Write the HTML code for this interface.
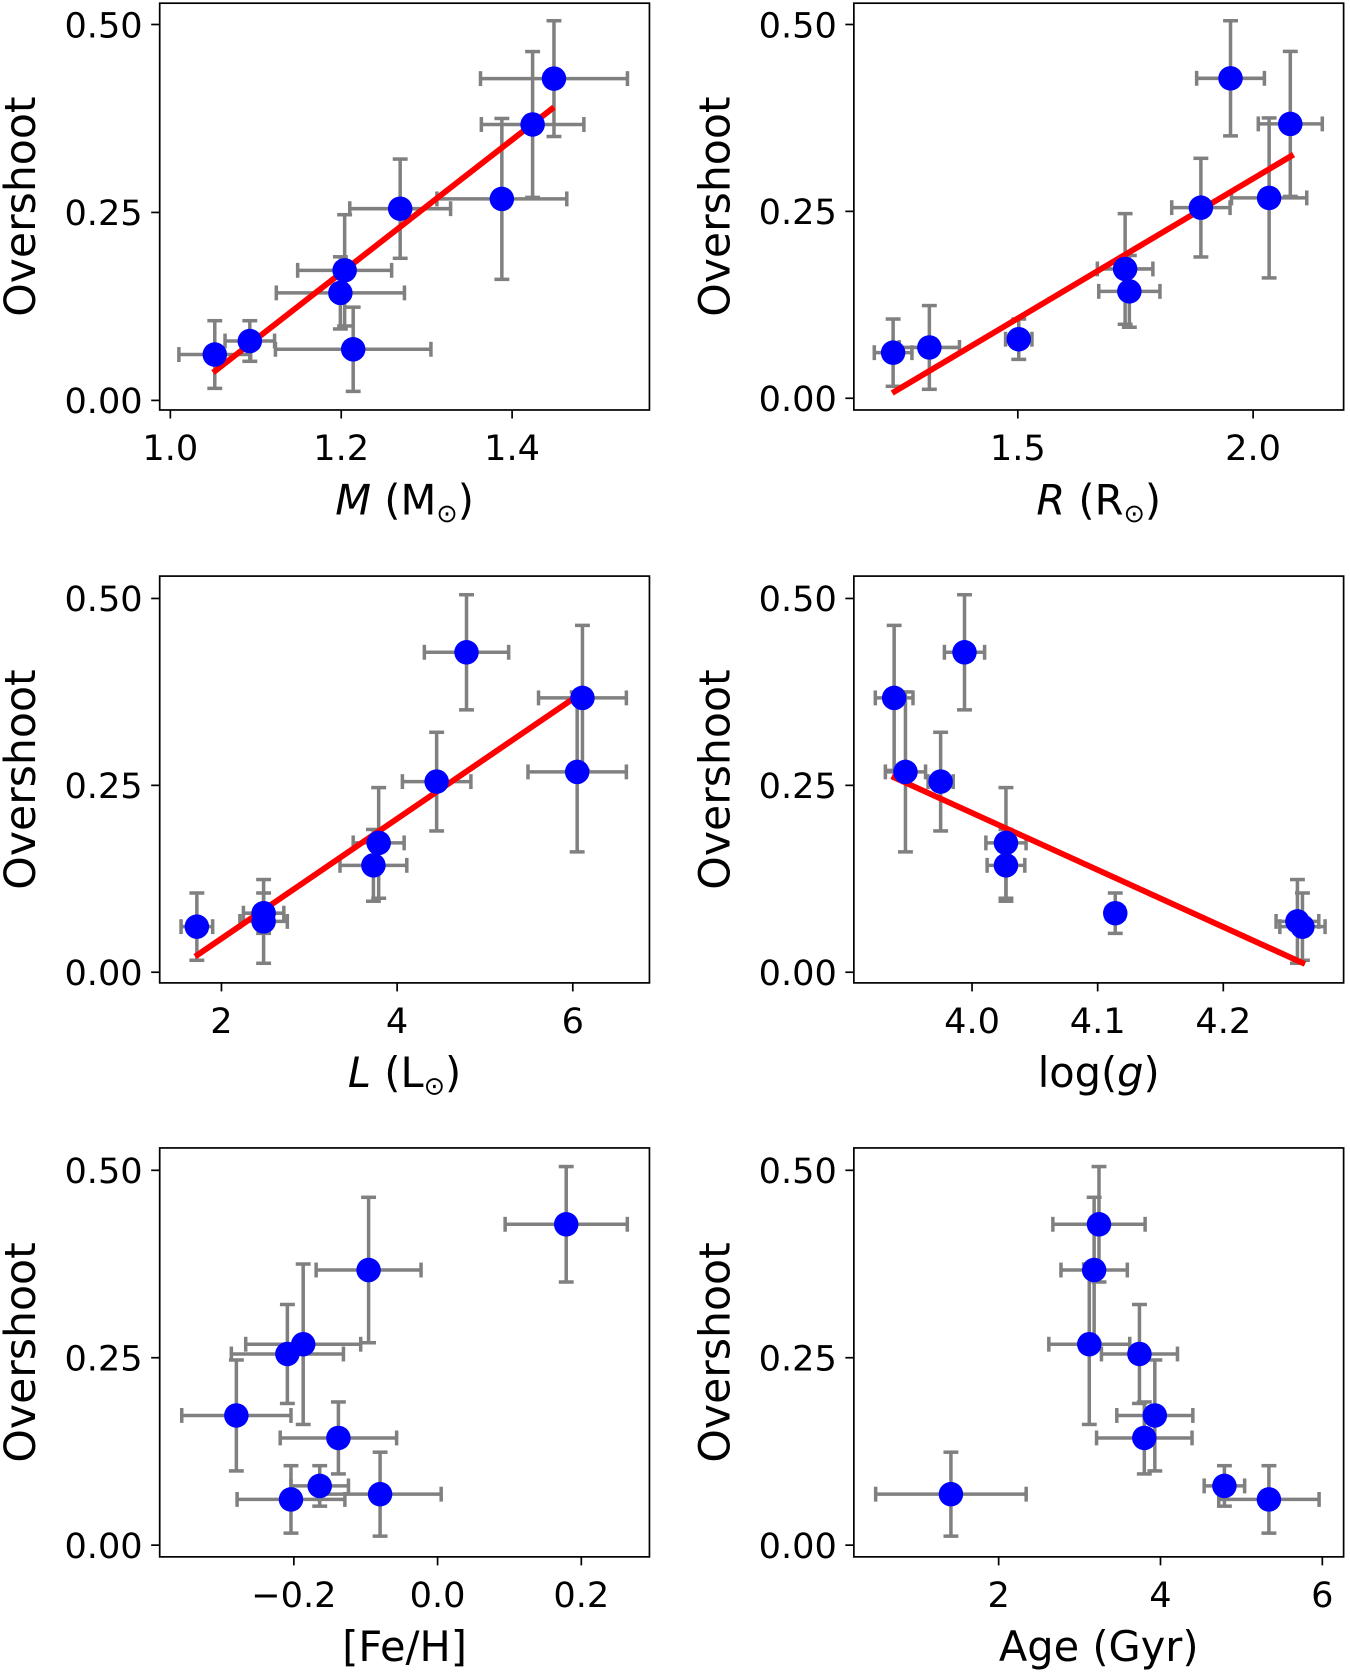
<!DOCTYPE html>
<html><head><meta charset="utf-8"><style>
html,body{margin:0;padding:0;background:#fff;}
svg{display:block;font-family:"DejaVu Sans","Liberation Sans",sans-serif;}
</style></head><body>
<svg id="fig" width="1350" height="1674" viewBox="0 0 1268 1572" preserveAspectRatio="none" xmlns="http://www.w3.org/2000/svg"></svg>
<script>
// Overshoot values (shared across panels), stars A..I
const overshoot = [0.061, 0.079, 0.068, 0.143, 0.173, 0.255, 0.268, 0.367, 0.428];
const overshootErr = [0.045, 0.027, 0.056, 0.048, 0.074, 0.066, 0.107, 0.097, 0.077];
const mass = [1.052, 1.093, 1.214, 1.199, 1.204, 1.269, 1.388, 1.424, 1.449];
const massErr = [0.042, 0.029, 0.091, 0.075, 0.055, 0.059, 0.076, 0.060, 0.086];
const radius = [1.235, 1.502, 1.312, 1.737, 1.728, 1.889, 2.034, 2.079, 1.952];
const radiusErr = [0.040, 0.028, 0.064, 0.065, 0.059, 0.062, 0.080, 0.068, 0.072];
const lum = [1.72, 2.48, 2.48, 3.73, 3.79, 4.45, 6.05, 6.11, 4.79];
const lumErr = [0.18, 0.23, 0.27, 0.38, 0.29, 0.39, 0.56, 0.50, 0.48];
const logg = [4.263, 4.114, 4.259, 4.027, 4.027, 3.975, 3.947, 3.938, 3.994];
const loggErr = [0.018, 0.007, 0.017, 0.015, 0.016, 0.010, 0.016, 0.015, 0.016];
const feh = [-0.204, -0.164, -0.080, -0.138, -0.280, -0.209, -0.187, -0.096, 0.179];
const fehErr = [0.075, 0.040, 0.085, 0.081, 0.076, 0.078, 0.080, 0.073, 0.085];
const age = [5.34, 4.79, 1.41, 3.80, 3.93, 3.74, 3.12, 3.18, 3.24];
const ageErr = [0.62, 0.25, 0.93, 0.59, 0.47, 0.47, 0.50, 0.41, 0.57];
// fit lines (endpoints)
const fitMassX = [1.05, 1.449], fitMassY = [0.037, 0.390];
const fitRadX = [1.233, 2.086], fitRadY = [0.007, 0.326];
const fitLumX = [1.70, 6.08], fitLumY = [0.021, 0.372];
const fitLoggX = [3.936, 4.265], fitLoggY = [0.262, 0.011];
const yTicks = [0, 0.25, 0.5];
const yTickLabels = ["0.00", "0.25", "0.50"];

const NS = "http://www.w3.org/2000/svg";
const svg = document.getElementById("fig");
function mk(tag, attrs, parent) {
  const e = document.createElementNS(NS, tag);
  for (const k in attrs) e.setAttribute(k, attrs[k]);
  (parent || svg).appendChild(e);
  return e;
}
const panels = [
  {name:"mass", box:[150,3,610,385], xa:[1.0,160,1.4,481], ya:[376,23], x:mass, xe:massErr, fx:fitMassX, fy:fitMassY,
   ticks:[1.0,1.2,1.4], labels:["1.0","1.2","1.4"], xl:'<tspan font-style="italic">M</tspan> (M<tspan font-size="24" dy="7">⊙</tspan><tspan dy="-7">)</tspan>'},
  {name:"radius", box:[802,3,1262,385], xa:[1.5,956,2.0,1177], ya:[374,23], x:radius, xe:radiusErr, fx:fitRadX, fy:fitRadY,
   ticks:[1.5,2.0], labels:["1.5","2.0"], xl:'<tspan font-style="italic">R</tspan> (R<tspan font-size="24" dy="7">⊙</tspan><tspan dy="-7">)</tspan>'},
  {name:"luminosity", box:[150,541,610,923], xa:[2,208,4,373], ya:[913,562], x:lum, xe:lumErr, fx:fitLumX, fy:fitLumY,
   ticks:[2,4,6], labels:["2","4","6"], xl:'<tspan font-style="italic">L</tspan> (L<tspan font-size="24" dy="7">⊙</tspan><tspan dy="-7">)</tspan>'},
  {name:"logg", box:[802,541,1262,923], xa:[4.0,913,4.2,1149], ya:[913,562], x:logg, xe:loggErr, fx:fitLoggX, fy:fitLoggY,
   ticks:[4.0,4.1,4.2], labels:["4.0","4.1","4.2"], xl:'log(<tspan font-style="italic">g</tspan>)'},
  {name:"metallicity", box:[150,1078,610,1462], xa:[0.0,411,0.2,546], ya:[1451,1099], x:feh, xe:fehErr, fx:null, fy:null,
   ticks:[-0.2,0.0,0.2], labels:["−0.2","0.0","0.2"], xl:'[Fe/H]'},
  {name:"age", box:[802,1078,1262,1462], xa:[2,938,4,1090], ya:[1451,1099], x:age, xe:ageErr, fx:null, fy:null,
   ticks:[2,4,6], labels:["2","4","6"], xl:'Age (Gyr)'}
];
panels.forEach(p => {
  const g = mk("g", {});
  
  
  const [x0,y0,x1,y1] = p.box;
  const sx = v => p.xa[1] + (v - p.xa[0]) * (p.xa[3]-p.xa[1])/(p.xa[2]-p.xa[0]);
  const sy = v => p.ya[0] + v * (p.ya[1]-p.ya[0])/0.5;
  yTicks.forEach((t,i) => {
    const y = sy(t);
    const tk = mk("line", {x1:x0-8,x2:x0,y1:y,y2:y,stroke:"#000","stroke-width":1.6}, g);
    
    
    const tl = mk("text", {x:x0-16,y:y+12,"text-anchor":"end","font-size":33}, g);
    tl.textContent = yTickLabels[i];
    
    
  });
  p.ticks.forEach((t,i) => {
    const x = sx(t);
    const tk = mk("line", {x1:x,x2:x,y1:y1,y2:y1+8,stroke:"#000","stroke-width":1.6}, g);
    
    
    const tl = mk("text", {x:x,y:y1+47,"text-anchor":"middle","font-size":33}, g);
    tl.textContent = p.labels[i];
    
    
  });
  const yl = mk("text", {x:0,y:0,"text-anchor":"middle","font-size":40,transform:`translate(${x0-117},${(y0+y1)/2}) rotate(-90)`}, g);
  yl.textContent = "Overshoot";
  
  
  const xl = mk("text", {x:(x0+x1)/2,y:y1+98,"text-anchor":"middle","font-size":39}, g);
  xl.innerHTML = p.xl;
  
  
  p.x.forEach((xv,i) => {
    const cx = sx(xv), cy = sy(overshoot[i]);
    const xa = sx(xv - p.xe[i]), xb = sx(xv + p.xe[i]);
    const ya = sy(overshoot[i] - overshootErr[i]), yb = sy(overshoot[i] + overshootErr[i]);
    const eb = mk("g", {stroke:"#808080","stroke-width":3.3}, g);
    
    
    mk("line",{x1:xa,x2:xb,y1:cy,y2:cy},eb);
    mk("line",{x1:cx,x2:cx,y1:ya,y2:yb},eb);
    mk("line",{x1:xa,x2:xa,y1:cy-7,y2:cy+7},eb);
    mk("line",{x1:xb,x2:xb,y1:cy-7,y2:cy+7},eb);
    mk("line",{x1:cx-7,x2:cx+7,y1:ya,y2:ya},eb);
    mk("line",{x1:cx-7,x2:cx+7,y1:yb,y2:yb},eb);
  });
  if (p.fx) {
    const fl = mk("line", {x1:sx(p.fx[0]),y1:sy(p.fy[0]),x2:sx(p.fx[1]),y2:sy(p.fy[1]),stroke:"#ff0000","stroke-width":5.5}, g);
    
    
  }
  p.x.forEach((xv,i) => {
    const c = mk("circle", {cx:sx(xv),cy:sy(overshoot[i]),r:11.5,fill:"#0000ff"}, g);
    
    
  });
  const fr = mk("rect", {x:x0,y:y0,width:x1-x0,height:y1-y0,fill:"none",stroke:"#000","stroke-width":1.6}, g);
  
  
});
</script>
</body></html>
